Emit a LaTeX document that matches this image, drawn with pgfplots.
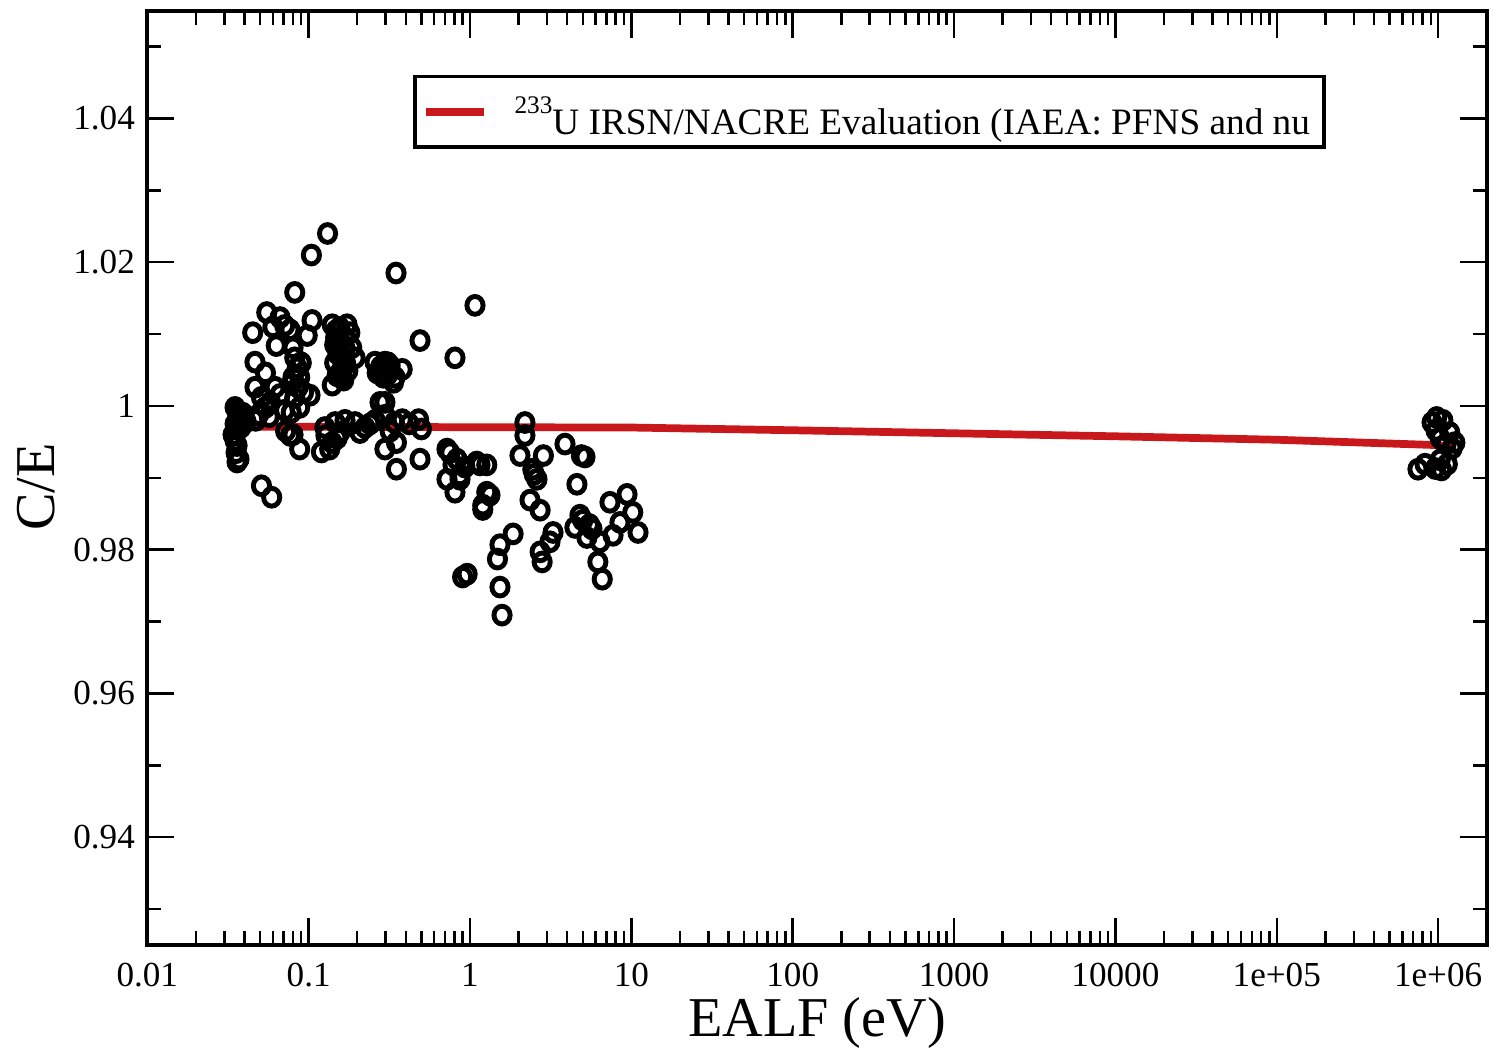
\documentclass[border=0pt]{standalone}
\usepackage{fontspec}
\setmainfont{Liberation Serif}
\usepackage{pgfplots}
\pgfplotsset{compat=1.18}
\definecolor{fitred}{RGB}{200,24,28}

\begin{document}
\begin{tikzpicture}
\useasboundingbox (-1.473cm,-1.06cm) rectangle (13.467cm,9.45cm);
\begin{axis}[
  scale only axis, width=13.394cm, height=9.343cm,
  xmode=log, xmin=0.01, xmax=2e6,
  ymin=0.925, ymax=1.055,
  xtick={0.01,0.1,1,10,100,1000,10000,100000,1000000},
  xticklabels={0.01,0.1,1,10,100,1000,10000,1e+05,1e+06},
  minor xtick={0.02,0.03,0.04,0.05,0.06,0.07,0.08,0.09,
    0.2,0.3,0.4,0.5,0.6,0.7,0.8,0.9,
    2,3,4,5,6,7,8,9,
    20,30,40,50,60,70,80,90,
    200,300,400,500,600,700,800,900,
    2000,3000,4000,5000,6000,7000,8000,9000,
    20000,30000,40000,50000,60000,70000,80000,90000,
    2e5,3e5,4e5,5e5,6e5,7e5,8e5,9e5},
  ytick={0.94,0.96,0.98,1,1.02,1.04},
  yticklabels={0.94,0.96,0.98,1,1.02,1.04},
  minor ytick={0.93,0.95,0.97,0.99,1.01,1.03,1.05},
  axis line style={line width=1.1pt},
  every tick/.style={black, line width=0.7pt},
  major tick length=0.27cm, minor tick length=0.14cm,
  tick label style={font=\fontsize{10}{12}\selectfont},
  xticklabel style={yshift=-0.06cm},
  xlabel={EALF (eV)}, ylabel={C/E},
  label style={font=\fontsize{16}{19}\selectfont},
  xlabel style={at={(axis description cs:0.5,-0.098)}, anchor=base},
  ylabel style={at={(axis description cs:-0.083,0.49)}, anchor=center},
  legend style={at={(0.1984,0.9312)}, anchor=north west, draw=black,
    line width=1pt, inner xsep=0.07cm, inner ysep=0pt,
    nodes={inner sep=0.07cm},
    font=\fontsize{10.6}{12}\selectfont},
  legend image code/.code={
    \draw[#1, line width=2.2pt] (0cm,0cm) -- (0.58cm,0cm);
    \path (0.78cm,0cm);},
]
% measured C/E values
\addplot[only marks, mark=o, mark size=2.3pt,
  mark options={line width=1.4pt, yscale=1.1, black}, forget plot]
  coordinates {
  (0.131,1.0240) (0.104,1.0210) (0.348,1.0185) (0.082,1.0158)
  (1.074,1.0140) (0.49,1.0091) (0.807,1.0067)
  (0.045,1.0102) (0.055,1.0130) (0.0665,1.0123) (0.063,1.0084)
  (0.0766,1.0106) (0.098,1.0098) (0.105,1.0119) (0.0465,1.0061)
  (0.054,1.0046) (0.060,1.0110) (0.071,1.0112)
  (0.080,1.0081) (0.082,1.0067) (0.085,1.0053) (0.080,1.0040)
  (0.086,1.0026) (0.082,1.0012) (0.088,0.9998) (0.078,0.9991)
  (0.093,1.0019) (0.088,1.0040) (0.090,1.0060) (0.078,1.0030)
  (0.0465,1.0026) (0.051,1.0012) (0.058,1.0005) (0.0665,1.0016)
  (0.054,0.9998) (0.071,0.9994) (0.049,0.9988) (0.062,1.0026)
  (0.047,0.9980) (0.057,0.9985) (0.102,1.0015)
  (0.035,0.9998) (0.036,0.9993) (0.037,0.9987) (0.0375,0.9981)
  (0.035,0.9975) (0.036,0.9968) (0.034,0.9960) (0.035,0.9952)
  (0.036,0.9945) (0.0355,0.9935) (0.037,0.9926) (0.036,0.9922)
  (0.039,0.9990) (0.040,0.9984) (0.038,0.9970) (0.041,0.9978)
  (0.051,0.9889) (0.059,0.9873)
  (0.088,0.9940) (0.120,0.9936) (0.128,0.9959) (0.140,0.9949)
  (0.126,0.9970) (0.146,0.9977) (0.168,0.9980) (0.156,0.9963)
  (0.135,0.9940) (0.150,0.9955) (0.072,0.9965) (0.080,0.9960)
  (0.077,0.9959)
  (0.194,0.9977) (0.2235,0.9970) (0.258,0.9980) (0.297,0.9987)
  (0.340,0.9977) (0.380,0.9981) (0.480,0.9981) (0.500,0.9968)
  (0.208,0.9963) (0.277,1.0005) (0.297,0.9940) (0.350,0.9949)
  (0.350,0.9912) (0.490,0.9926) (0.240,0.9975) (0.320,0.9965)
  (0.420,0.9975)
  (0.140,1.0113) (0.150,1.0102) (0.156,1.0091) (0.168,1.0080)
  (0.152,1.0072) (0.163,1.0061) (0.175,1.0049) (0.150,1.0042)
  (0.165,1.0036) (0.140,1.0029) (0.185,1.0081) (0.180,1.0102)
  (0.173,1.0113) (0.156,1.0109) (0.194,1.0067) (0.145,1.0085)
  (0.160,1.0050) (0.145,1.0060)
  (0.147,1.0095) (0.155,1.0078) (0.162,1.0068) (0.170,1.0058)
  (0.158,1.0040) (0.148,1.0105) (0.168,1.0095)
  (0.258,1.0061) (0.297,1.0061) (0.266,1.0046) (0.310,1.0044)
  (0.290,1.0049) (0.320,1.0056) (0.343,1.0040) (0.380,1.0051)
  (0.336,1.0033) (0.297,1.0005)
  (0.280,1.0055) (0.300,1.0052) (0.310,1.0060) (0.290,1.0040)
  (0.275,1.0050)
  (0.720,0.9940) (0.785,0.9918) (0.867,0.9898) (0.830,0.9926)
  (0.720,0.9898) (0.867,0.9904) (0.807,0.9880) (1.153,0.9918)
  (1.270,0.9918) (1.330,0.9876) (1.200,0.9862) (1.100,0.9922)
  (1.270,0.9880) (1.200,0.9856) (0.960,0.9766) (0.900,0.9762)
  (0.750,0.9935) (0.930,0.9915)
  (2.19,0.9977) (2.19,0.9959) (2.04,0.9931) (2.85,0.9931)
  (2.45,0.9912) (2.60,0.9898) (2.355,0.9869) (2.72,0.9855)
  (3.88,0.9947) (4.9,0.9931) (4.6,0.9891) (1.85,0.9822)
  (1.534,0.9807) (1.48,0.9787) (1.534,0.9748) (1.58,0.9709)
  (3.27,0.9824) (3.13,0.9811) (2.72,0.9797) (2.80,0.9783)
  (5.0,0.9841) (5.7,0.9829) (4.8,0.9848) (4.47,0.9831)
  (5.3,0.9817) (7.37,0.9866) (9.4,0.9877) (10.2,0.9852)
  (8.5,0.9838) (11.0,0.9824) (6.39,0.9811) (6.2,0.9783)
  (6.6,0.9759) (7.7,0.9820) (5.16,0.9929) (2.5,0.9905)
  (5.5,0.9835)
  (9.17e5,0.9977) (9.7e5,0.9966) (1.03e6,0.9955) (1.12e6,0.9947)
  (1.22e6,0.9941) (1.07e6,0.9980) (9.8e5,0.9984) (1.18e6,0.9963)
  (1.27e6,0.9949) (7.5e5,0.9912) (8.3e5,0.9919) (9.6e5,0.9913)
  (1.05e6,0.9911) (1.14e6,0.9919) (1.03e6,0.9925)
};
% evaluation trend
\addplot[fitred, line width=2.2pt] coordinates {
  (0.033,0.99712) (10,0.99700) (100,0.99662) (1000,0.99620)
  (10000,0.99578) (100000,0.99530) (1000000,0.99455) (1270000,0.99425)
};
\addlegendentry{\rule[-0.11cm]{0pt}{0.62cm}{\fontsize{7.2}{8}\selectfont\raisebox{5.9pt}{233}}U IRSN/NACRE Evaluation (IAEA: PFNS and nu}
\end{axis}
\end{tikzpicture}
\end{document}
